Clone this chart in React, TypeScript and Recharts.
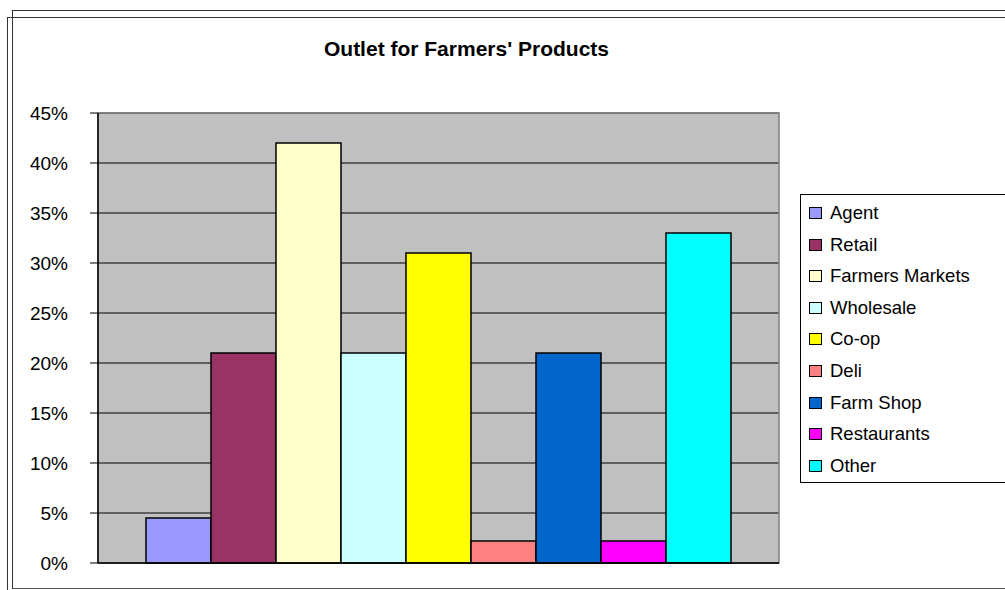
import { BarChart, Bar, XAxis, YAxis, CartesianGrid, ReferenceArea, ReferenceLine } from 'recharts'

const categories = ['Outlet']
const seriesNames = ['Agent', 'Retail', 'Farmers Markets', 'Wholesale', 'Co-op', 'Deli', 'Farm Shop', 'Restaurants', 'Other']
const seriesValues = [0.045, 0.21, 0.42, 0.21, 0.31, 0.022, 0.21, 0.022, 0.33]
const seriesColors = ['#9999FF', '#993366', '#FFFFCC', '#CCFFFF', '#FFFF00', '#FF8080', '#0066CC', '#FF00FF', '#00FFFF']
const yTicks = [0, 0.05, 0.1, 0.15, 0.2, 0.25, 0.3, 0.35, 0.4, 0.45]

const data = categories.map((name) => {
  const row: Record<string, string | number> = { name }
  seriesNames.forEach((s, i) => {
    row[s] = seriesValues[i]
  })
  return row
})

const FONT = 'Arial, "Liberation Sans", Helvetica, sans-serif'

export default function App() {
  return (
    <div style={{ position: 'absolute', left: 0, top: 0, width: 1005, height: 590, overflow: 'hidden', background: '#fff', fontFamily: FONT }}>
      {/* outer frames */}
      <div style={{ position: 'absolute', left: 12, top: 10, width: 1010, height: 577, borderLeft: '1.5px solid #333', borderTop: '1.5px solid #333', borderBottom: '1.5px solid #555' }} />
      <div style={{ position: 'absolute', left: 7, top: 17, width: 1010, height: 600, borderLeft: '1.5px solid #333', borderTop: '1.5px solid #333' }} />

      <div style={{ position: 'absolute', left: 0, top: 37, width: 933, textAlign: 'center', fontWeight: 'bold', fontSize: 21, color: '#000' }}>
        Outlet for Farmers' Products
      </div>

      <div style={{ position: 'absolute', left: 0, top: 0 }}>
        <BarChart
          width={1005}
          height={590}
          data={data}
          margin={{ top: 113, right: 226, bottom: 27, left: 38 }}
          barCategoryGap={48}
          barGap={0}
        >
          <CartesianGrid vertical={false} stroke="#000" fill="#C0C0C0" fillOpacity={1} />
          <ReferenceArea y1={0} y2={0.45} fill="none" stroke="#808080" strokeWidth={1.5} />
          <XAxis dataKey="name" hide />
          <YAxis
            domain={[0, 0.45]}
            ticks={yTicks}
            width={60}
            interval={0}
            tickFormatter={(v: number) => `${Math.round(v * 100)}%`}
            tick={{ fill: '#000', fontSize: 19, fontFamily: FONT }}
            tickSize={8}
            tickMargin={22}
            tickLine={{ stroke: '#000' }}
            axisLine={{ stroke: '#000', strokeWidth: 1.5 }}
          />
          {seriesNames.map((s, i) => (
            <Bar key={s} dataKey={s} fill={seriesColors[i]} stroke="#000" strokeWidth={1.5} isAnimationActive={false} />
          ))}
          <ReferenceLine y={0} stroke="#000" strokeWidth={1.5} />
        </BarChart>
      </div>

      <div style={{ position: 'absolute', left: 800, top: 194, width: 230, height: 287, border: '1px solid #000', background: '#fff' }}>
        {seriesNames.map((s, i) => (
          <div key={s} style={{ position: 'absolute', left: 8, top: 6 + i * 31.6, height: 24, display: 'flex', alignItems: 'center', fontSize: 18.5, color: '#000', whiteSpace: 'nowrap' }}>
            <span style={{ display: 'inline-block', width: 11, height: 10, background: seriesColors[i], border: '1.5px solid #000', marginRight: 8 }} />
            {s}
          </div>
        ))}
      </div>
    </div>
  )
}
